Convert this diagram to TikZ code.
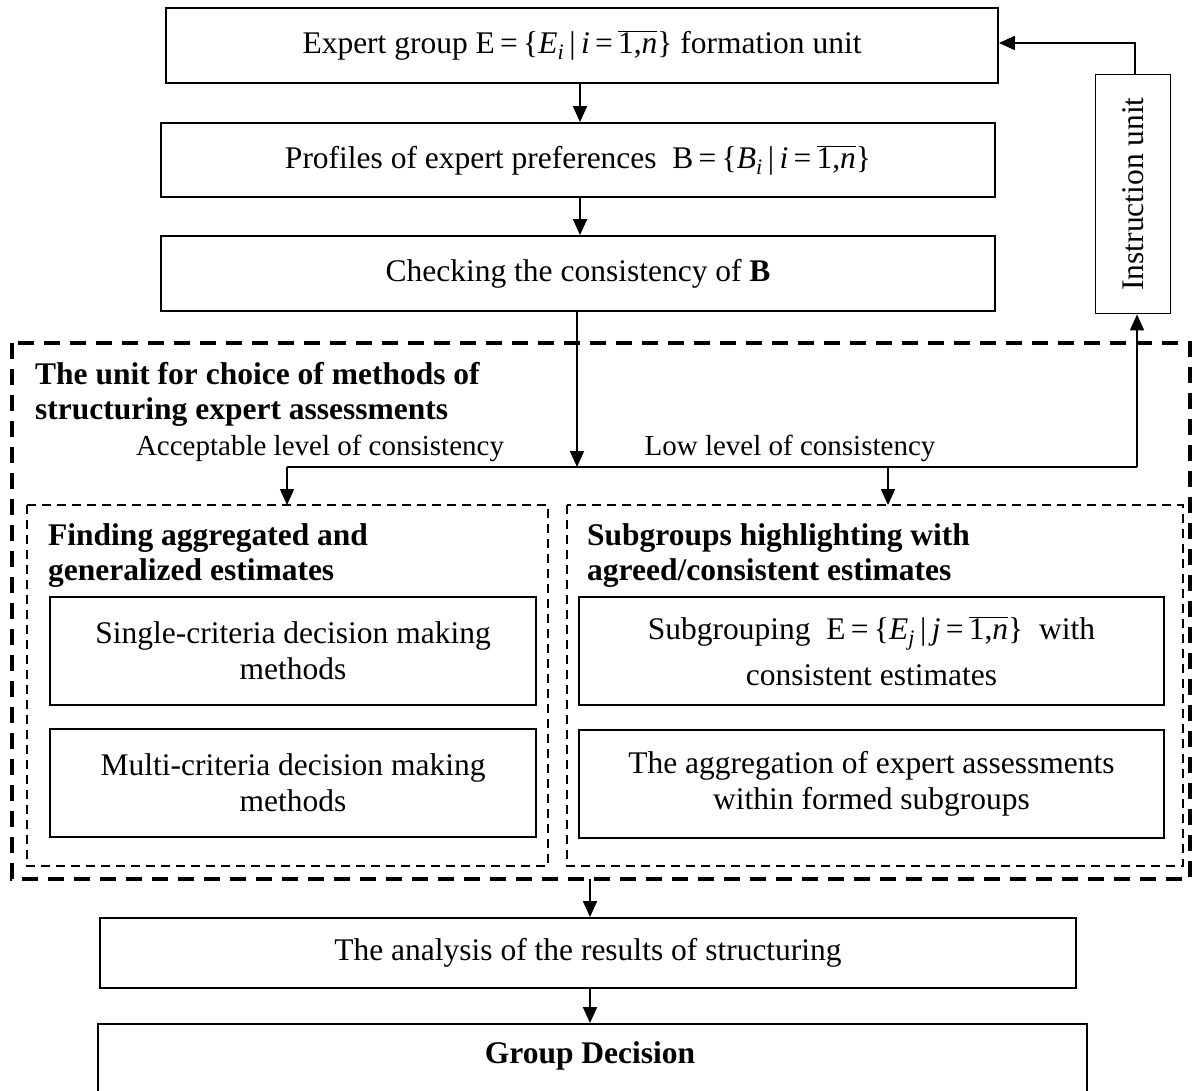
\documentclass[tikz,border=0pt]{standalone}
\usepackage{fontspec}
\setmainfont{Liberation Serif}
\usetikzlibrary{arrows.meta}
\newcommand{\setexpr}[3]{E\,=\,\{\textit{#1}\textsubscript{\textit{#2}}\,|\,\textit{#2}\,=\,$\overline{\mbox{1,\textit{#3}}}$\}}
\begin{document}
\begin{tikzpicture}[x=1pt,y=-1pt,
  every node/.style={font=\fontsize{31.5}{36}\selectfont},
  box/.style={draw,line width=1.8pt,inner sep=0pt,align=center},
  bigdash/.style={line width=3.8pt,dash pattern=on 16pt off 10pt},
  smalldash/.style={line width=2pt,dash pattern=on 9pt off 6pt},
  link/.style={line width=1.8pt,-{Triangle[length=16pt,width=14pt]}},
  plain/.style={line width=1.8pt},
  title/.style={anchor=north west,align=left,inner sep=0pt,font=\fontsize{31.5}{35.5}\selectfont\bfseries},
  lbl/.style={inner sep=0pt,font=\fontsize{29}{34}\selectfont}]
\clip (0,0) rectangle (1194,1090);
\fill[white] (0,0) rectangle (1194,1090);

% top chain
\node[box,minimum width=832pt,minimum height=75pt] (expert) at (582,45.5)
  {Expert group \setexpr{E}{i}{n} formation unit};
\node[box,minimum width=834pt,minimum height=74pt] (profiles) at (578,160)
  {Profiles of expert preferences \ B\,=\,\{\textit{B}\textsubscript{\textit{i}}\,|\,\textit{i}\,=\,$\overline{\mbox{1,\textit{n}}}$\}};
\node[box,minimum width=834pt,minimum height=75pt] (check) at (578,273.5)
  {Checking the consistency of \textbf{B}};
\node[box,rotate=90,minimum width=239pt,minimum height=75pt] (instr) at (1133,194)
  {Instruction unit};

% choice unit
\draw[bigdash] (12,343) rectangle (1190,879);
\node[title] (unit) at (35,362) {The unit for choice of methods of\\structuring expert assessments};
\node[lbl] (acc) at (320,448) {Acceptable level of consistency};
\node[lbl] (low) at (790,448) {Low level of consistency};

\draw[smalldash] (27,505) rectangle (548,866);
\draw[smalldash] (567,505) rectangle (1183,866);
\node[title] (agg) at (48,523) {Finding aggregated and\\generalized estimates};
\node[title] (sub) at (587,523) {Subgroups highlighting with\\agreed/consistent estimates};

\node[box,minimum width=486pt,minimum height=108pt] (single) at (293,651)
  {Single-criteria decision making\\methods};
\node[box,minimum width=486pt,minimum height=108pt] (multi) at (293,783)
  {Multi-criteria decision making\\methods};
\node[box,minimum width=585pt,minimum height=108pt] (subgr) at (871.5,651)
  {Subgrouping \ \setexpr{E}{j}{n} \ with\\[10pt]consistent estimates};
\node[box,minimum width=585pt,minimum height=108pt] (aggr) at (871.5,784)
  {The aggregation of expert assessments\\within formed subgroups};

% bottom chain
\node[box,minimum width=976pt,minimum height=70pt] (analysis) at (588,953)
  {The analysis of the results of structuring};
\node[box,minimum width=989pt,minimum height=100pt,anchor=north] (decision) at (592.5,1023) {};
\node[font=\fontsize{31.5}{36}\selectfont\bfseries] (dtext) at (590,1056) {Group Decision};

% junctions
\coordinate (split) at (577,467);
\coordinate (jl) at (287,467);
\coordinate (jr) at (888,467);
\coordinate (jfar) at (1137,467);
\coordinate (tl) at (287,505);
\coordinate (tr) at (888,505);
\coordinate (outtop) at (590,879);
\coordinate (ibend) at (1135,43);

% connectors
\draw[link] (expert.south -| 580,0) -- (profiles.north -| 580,0);
\draw[link] (profiles.south -| 580,0) -- (check.north -| 580,0);
\draw[link] (check.south -| split) -- (split);
\draw[plain] (jl) -- (jfar);
\draw[link] (jl) -- (tl);
\draw[link] (jr) -- (tr);
\draw[link] (jfar) -- (instr.west -| jfar);
\draw[link] (instr.east -| ibend) -- (ibend) -- (expert.east |- ibend);
\draw[link] (outtop) -- (analysis.north -| outtop);
\draw[link] (analysis.south -| outtop) -- (decision.north -| outtop);
\end{tikzpicture}
\end{document}
